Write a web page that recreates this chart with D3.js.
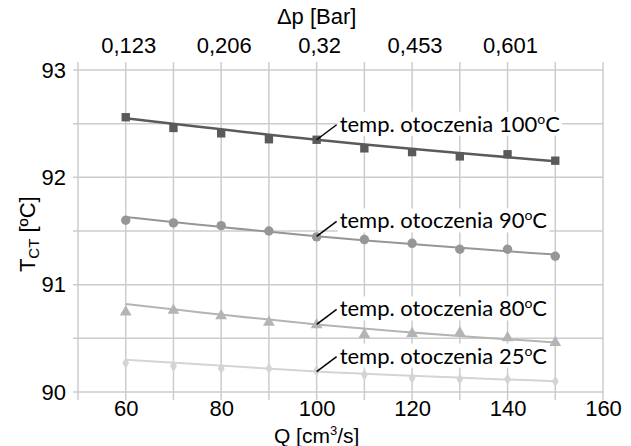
<!DOCTYPE html>
<html>
<head>
<meta charset="utf-8">
<script src="https://cdn.jsdelivr.net/npm/d3@7"></script>
<style>
  body { margin: 0; background: #fff; }
  svg { display: block; }
  text { font-family: "Liberation Sans", Arial, sans-serif; fill: #000; }
  .lbl { font-family: Lato, "Open Sans", sans-serif; }
</style>
</head>
<body>
<div id="chart"></div>
<script>
// flow rate Q [cm3/s]
const flowQ = [60, 70, 80, 90, 100, 110, 120, 130, 140, 150];

// measured T_CT for each ambient temperature
const temp100 = [92.56, 92.46, 92.41, 92.355, 92.35, 92.27, 92.235, 92.195, 92.215, 92.155];
const temp90 = [91.60, 91.575, 91.55, 91.50, 91.445, 91.42, 91.385, 91.33, 91.33, 91.265];
const temp80 = [90.745, 90.76, 90.71, 90.65, 90.625, 90.535, 90.545, 90.55, 90.505, 90.46];
const temp25 = [90.27, 90.24, 90.22, 90.22, 90.20, 90.16, 90.13, 90.12, 90.12, 90.10];

// trend lines (at Q = 60, 100, 150)
const trendQ = [60, 100, 150];
const trend100 = [92.55, 92.35, 92.15];
const trend90 = [91.63, 91.45, 91.28];
const trend80 = [90.82, 90.63, 90.46];
const trend25 = [90.30, 90.19, 90.10];

const seriesNames = ["100", "90", "80", "25"];
const labelPrefix = "temp. otoczenia ";

// top axis: pressure drop at Q = 60, 80, ... 140
const dpQ = [60, 80, 100, 120, 140];
const dpLabels = ["0,123", "0,206", "0,32", "0,453", "0,601"];

const xTicks = [60, 80, 100, 120, 140, 160];
const yTicks = [90, 91, 92, 93];

const width = 631, height = 446;
const margin = { top: 70, right: 28, bottom: 54, left: 78 };

const svg = d3.select("#chart").append("svg")
    .attr("width", width)
    .attr("height", height);

const x = d3.scaleLinear().domain([50, 160]).range([margin.left, width - margin.right]);
const y = d3.scaleLinear().domain([90, 93]).range([height - margin.bottom, margin.top]);

const gridColor = "#cccccc";

// vertical gridlines, also used as the tick marks above and below the plot
const grid = svg.append("g").attr("class", "grid");
grid.selectAll("line.v")
    .data(d3.range(50, 161, 10))
    .join("line")
    .attr("x1", d => x(d)).attr("x2", d => x(d))
    .attr("y1", y(93) - 8).attr("y2", y(90) + 8)
    .attr("stroke", gridColor).attr("stroke-width", 1.5);

grid.selectAll("line.h")
    .data(d3.range(90, 93.01, 0.5))
    .join("line")
    .attr("x1", x(50) - 5).attr("x2", x(160))
    .attr("y1", d => y(d)).attr("y2", d => y(d))
    .attr("stroke", gridColor).attr("stroke-width", 1.5);

// bottom axis labels
const xAxis = svg.append("g")
    .attr("transform", `translate(0,${y(90)})`)
    .call(d3.axisBottom(x).tickValues(xTicks).tickSize(0).tickPadding(8));
xAxis.select(".domain").remove();
xAxis.selectAll("text").style("font-size", "22px").attr("fill", "#000");

// left axis labels
const yAxis = svg.append("g")
    .attr("transform", `translate(${x(50)},0)`)
    .call(d3.axisLeft(y).tickValues(yTicks).tickFormat(d3.format("d")).tickSize(0).tickPadding(12));
yAxis.select(".domain").remove();
yAxis.selectAll("text").style("font-size", "22px").attr("fill", "#000");

// top axis labels
svg.append("g").selectAll("text")
    .data(dpQ)
    .join("text")
    .attr("x", d => x(d) + 3)
    .attr("y", 53)
    .attr("text-anchor", "middle")
    .style("font-size", "22px")
    .text((d, i) => dpLabels[i]);

// axis titles
svg.append("text")
    .attr("x", x(100)).attr("y", 24)
    .attr("text-anchor", "middle")
    .style("font-size", "22px")
    .text("Δp [Bar]");

const qTitle = svg.append("text")
    .attr("x", x(100)).attr("y", 443)
    .attr("text-anchor", "middle")
    .style("font-size", "21px");
qTitle.append("tspan").text("Q [cm");
qTitle.append("tspan").attr("dy", -8).style("font-size", "13px").text("3");
qTitle.append("tspan").attr("dy", 8).text("/s]");

const tTitle = svg.append("text")
    .attr("transform", `translate(35,${y(91.47)}) rotate(-90)`)
    .attr("text-anchor", "middle")
    .style("font-size", "22px");
tTitle.append("tspan").text("T");
tTitle.append("tspan").attr("dy", 4).style("font-size", "15px").text("CT");
tTitle.append("tspan").attr("dy", -4).text(" [ºC]");

// series
const series = [
  { name: "100", vals: temp100, trend: trend100, color: "#5a5a5a", lw: 2.6, sym: d3.symbolSquare, size: 70 },
  { name: "90", vals: temp90, trend: trend90, color: "#969696", lw: 2, sym: d3.symbolCircle, size: 70 },
  { name: "80", vals: temp80, trend: trend80, color: "#b4b4b4", lw: 2, sym: d3.symbolTriangle, size: 60 },
  { name: "25", vals: temp25, trend: trend25, color: "#d4d4d4", lw: 2, sym: d3.symbolDiamond, size: 40 }
];

const line = d3.line()
    .x(d => x(d[0]))
    .y(d => y(d[1]))
    .curve(d3.curveMonotoneX);

series.forEach(s => {
  const g = svg.append("g").attr("class", "series-" + s.name);

  g.selectAll("path.mark")
      .data(flowQ.map((q, i) => [q, s.vals[i]]))
      .join("path")
      .attr("class", "mark")
      .attr("transform", d => `translate(${x(d[0])},${y(d[1])})`)
      .attr("d", d3.symbol().type(s.sym).size(s.size))
      .attr("fill", s.color);

  g.append("path")
      .datum(trendQ.map((q, i) => [q, s.trend[i]]))
      .attr("d", line)
      .attr("fill", "none")
      .attr("stroke", s.color)
      .attr("stroke-width", s.lw);
});

// labels with leader lines at Q = 100
series.forEach(s => {
  const px = x(100), py = y(s.trend[1]);
  const g = svg.append("g").attr("class", "label");
  const bg = g.append("rect").attr("fill", "#fff");
  const t = g.append("text")
      .attr("class", "lbl")
      .attr("x", px + 23)
      .attr("y", py - 8)
      .style("font-size", "22px");
  t.append("tspan").text(labelPrefix + s.name);
  t.append("tspan").attr("dy", -8).style("font-size", "14px").text("o");
  t.append("tspan").attr("dy", 8).text("C");
  const bb = t.node().getBBox();
  bg.attr("x", bb.x - 2).attr("y", bb.y + 2)
    .attr("width", bb.width + 4).attr("height", bb.height - 3);
  g.append("line")
      .attr("x1", px).attr("y1", py)
      .attr("x2", px + 20).attr("y2", py - 15)
      .attr("stroke", "#000").attr("stroke-width", 1.5);
});
</script>
</body>
</html>
